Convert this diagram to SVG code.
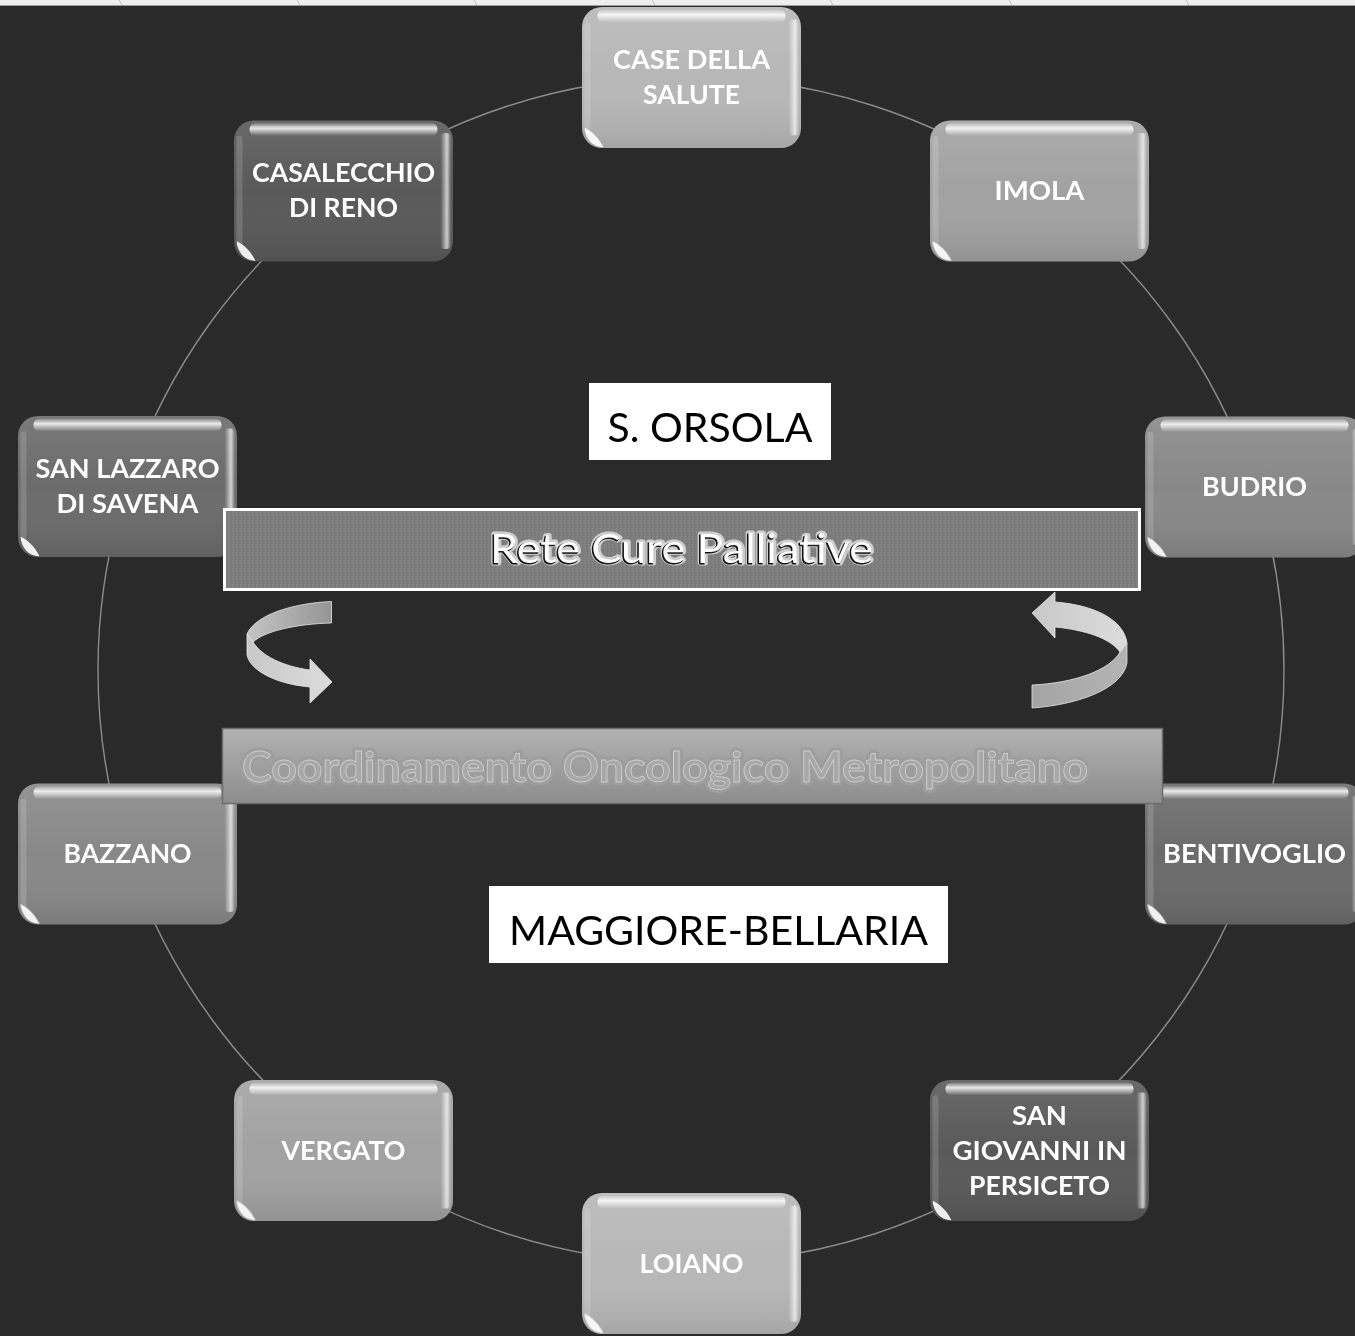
<svg xmlns="http://www.w3.org/2000/svg" width="1355" height="1336" viewBox="0 0 1355 1336">
<defs>
<style>
.lbl{font-family:Lato,"Liberation Sans",sans-serif;font-weight:bold;font-size:26px;fill:#fff;text-anchor:middle}
.arc{fill:none;stroke:#8c8c8c;stroke-width:1.4}
.nbox{stroke:none}
.c1{fill:#b7b7b7}.c2{fill:#a2a2a2}.c3{fill:#888}.c4{fill:#6b6b6b}.c5{fill:#595959}
.plain{font-family:Lato,"Liberation Sans",sans-serif;font-size:41px;fill:#000;text-anchor:middle}
</style>
<linearGradient id="shade" x1="0" y1="0" x2="0" y2="1">
<stop offset="0" stop-color="#fff" stop-opacity="0.10"/>
<stop offset="0.5" stop-color="#fff" stop-opacity="0"/>
<stop offset="1" stop-color="#000" stop-opacity="0.10"/>
</linearGradient>
<linearGradient id="hlTop" x1="0" y1="0" x2="0" y2="1">
<stop offset="0" stop-color="#fff" stop-opacity="0.1"/>
<stop offset="0.4" stop-color="#fff" stop-opacity="0.85"/>
<stop offset="1" stop-color="#fff" stop-opacity="0"/>
</linearGradient>
<linearGradient id="hlSide" x1="0" y1="0" x2="1" y2="0">
<stop offset="0" stop-color="#fff" stop-opacity="0"/>
<stop offset="0.65" stop-color="#fff" stop-opacity="0.7"/>
<stop offset="1" stop-color="#fff" stop-opacity="0.1"/>
</linearGradient>
<linearGradient id="hlSideV" x1="0" y1="0" x2="0" y2="1">
<stop offset="0" stop-color="#fff" stop-opacity="0"/>
<stop offset="0.15" stop-color="#fff" stop-opacity="1"/>
<stop offset="0.85" stop-color="#fff" stop-opacity="1"/>
<stop offset="1" stop-color="#fff" stop-opacity="0"/>
</linearGradient>
<mask id="sideMask"><rect x="-120" y="-80" width="240" height="160" fill="url(#hlSideV)"/></mask>
<linearGradient id="coordFill" x1="0" y1="0" x2="0" y2="1">
<stop offset="0" stop-color="#b2b2b2"/>
<stop offset="1" stop-color="#8d8d8d"/>
</linearGradient>
<linearGradient id="bandDark" x1="1" y1="0" x2="0" y2="0">
<stop offset="0" stop-color="#959595"/>
<stop offset="1" stop-color="#c4c4c4"/>
</linearGradient>
<linearGradient id="bandLight" x1="0" y1="0" x2="1" y2="0">
<stop offset="0" stop-color="#c8c8c8"/>
<stop offset="1" stop-color="#dcdcdc"/>
</linearGradient>
<linearGradient id="bandDark2" x1="0" y1="0" x2="1" y2="0">
<stop offset="0" stop-color="#a4a4a4"/>
<stop offset="1" stop-color="#b4b4b4"/>
</linearGradient>
<pattern id="noise" width="4" height="4" patternUnits="userSpaceOnUse">
<rect width="4" height="4" fill="#7e7e7e"/>
<rect x="0" y="0" width="1" height="1" fill="#8a8a8a"/>
<rect x="2" y="1" width="1" height="1" fill="#737373"/>
<rect x="1" y="2" width="1" height="1" fill="#888"/>
<rect x="3" y="3" width="1" height="1" fill="#747474"/>
</pattern>
<symbol id="gloss" overflow="visible">
<rect x="-109.5" y="-70.5" width="219" height="141" rx="20" fill="url(#shade)"/>
<rect x="-94" y="-68" width="188" height="13" rx="6" fill="url(#hlTop)"/>
<g mask="url(#sideMask)">
<rect x="97" y="-58" width="10" height="116" rx="4" fill="url(#hlSide)"/>
<rect x="-107" y="-55" width="6" height="110" rx="2" fill="#fff" opacity="0.15"/>
</g>
<path d="M-107,50 C-106,62 -99,69 -88,70 C-92,61 -99,54 -107,50 Z" fill="#fff" opacity="0.9"/>
</symbol>
</defs>
<rect width="1355" height="1336" fill="#2a2a2a"/>
<rect width="1355" height="5" fill="#eeeeee"/>
<line x1="0" y1="5.5" x2="1355" y2="5.5" stroke="#9c9c9c" stroke-width="1"/>
<g stroke="#b5b5b5" stroke-width="0.8">
<line x1="119" y1="0" x2="122" y2="5"/><line x1="297" y1="0" x2="300" y2="5"/><line x1="474" y1="0" x2="477" y2="5"/><line x1="652" y1="0" x2="655" y2="5"/><line x1="830" y1="0" x2="833" y2="5"/><line x1="1009" y1="0" x2="1012" y2="5"/><line x1="1186" y1="0" x2="1189" y2="5"/>
</g>
<g id="connectors">
<path class="arc" d="M691,77 A593,593 0 0 1 1039.6,190.3"/>
<path class="arc" d="M1039.6,190.3 A593,593 0 0 1 1255,486.8"/>
<path class="arc" d="M1255,486.8 A593,593 0 0 1 1255,853.2"/>
<path class="arc" d="M1255,853.2 A593,593 0 0 1 1039.6,1149.7"/>
<path class="arc" d="M1039.6,1149.7 A593,593 0 0 1 691,1263"/>
<path class="arc" d="M691,1263 A593,593 0 0 1 342.4,1149.7"/>
<path class="arc" d="M342.4,1149.7 A593,593 0 0 1 127,853.2"/>
<path class="arc" d="M127,853.2 A593,593 0 0 1 127,486.8"/>
<path class="arc" d="M127,486.8 A593,593 0 0 1 342.4,190.3"/>
<path class="arc" d="M342.4,190.3 A593,593 0 0 1 691,77"/>
</g>
<g id="node-case" transform="translate(691.5,77.5)">
<rect class="nbox c1" x="-109.5" y="-70.5" width="219" height="141" rx="20"/>
<use href="#gloss"/>
<text class="lbl" y="-9" textLength="157" lengthAdjust="spacingAndGlyphs">CASE DELLA</text><text class="lbl" y="26" textLength="97" lengthAdjust="spacingAndGlyphs">SALUTE</text>
</g>
<g id="node-imola" transform="translate(1039.5,191)">
<rect class="nbox c2" x="-109.5" y="-70.5" width="219" height="141" rx="20"/>
<use href="#gloss"/>
<text class="lbl" y="9" textLength="90" lengthAdjust="spacingAndGlyphs">IMOLA</text>
</g>
<g id="node-budrio" transform="translate(1254.5,487)">
<rect class="nbox c3" x="-109.5" y="-70.5" width="219" height="141" rx="20"/>
<use href="#gloss"/>
<text class="lbl" y="9" textLength="105" lengthAdjust="spacingAndGlyphs">BUDRIO</text>
</g>
<g id="node-bentivoglio" transform="translate(1254.5,854)">
<rect class="nbox c4" x="-109.5" y="-70.5" width="219" height="141" rx="20"/>
<use href="#gloss"/>
<text class="lbl" y="9" textLength="183" lengthAdjust="spacingAndGlyphs">BENTIVOGLIO</text>
</g>
<g id="node-sangiovanni" transform="translate(1039.5,1150.5)">
<rect class="nbox c5" x="-109.5" y="-70.5" width="219" height="141" rx="20"/>
<use href="#gloss"/>
<text class="lbl" y="-26" textLength="55" lengthAdjust="spacingAndGlyphs">SAN</text><text class="lbl" y="9" textLength="174" lengthAdjust="spacingAndGlyphs">GIOVANNI IN</text><text class="lbl" y="44" textLength="141" lengthAdjust="spacingAndGlyphs">PERSICETO</text>
</g>
<g id="node-loiano" transform="translate(691.5,1263.5)">
<rect class="nbox c1" x="-109.5" y="-70.5" width="219" height="141" rx="20"/>
<use href="#gloss"/>
<text class="lbl" y="9" textLength="104" lengthAdjust="spacingAndGlyphs">LOIANO</text>
</g>
<g id="node-vergato" transform="translate(343.5,1150.5)">
<rect class="nbox c2" x="-109.5" y="-70.5" width="219" height="141" rx="20"/>
<use href="#gloss"/>
<text class="lbl" y="9" textLength="124" lengthAdjust="spacingAndGlyphs">VERGATO</text>
</g>
<g id="node-bazzano" transform="translate(127.5,854)">
<rect class="nbox c3" x="-109.5" y="-70.5" width="219" height="141" rx="20"/>
<use href="#gloss"/>
<text class="lbl" y="9" textLength="128" lengthAdjust="spacingAndGlyphs">BAZZANO</text>
</g>
<g id="node-sanlazzaro" transform="translate(127.5,486.5)">
<rect class="nbox c4" x="-109.5" y="-70.5" width="219" height="141" rx="20"/>
<use href="#gloss"/>
<text class="lbl" y="-9" textLength="184" lengthAdjust="spacingAndGlyphs">SAN LAZZARO</text><text class="lbl" y="26" textLength="142" lengthAdjust="spacingAndGlyphs">DI SAVENA</text>
</g>
<g id="node-casalecchio" transform="translate(343.5,191)">
<rect class="nbox c5" x="-109.5" y="-70.5" width="219" height="141" rx="20"/>
<use href="#gloss"/>
<text class="lbl" y="-9" textLength="183" lengthAdjust="spacingAndGlyphs">CASALECCHIO</text><text class="lbl" y="26" textLength="109" lengthAdjust="spacingAndGlyphs">DI RENO</text>
</g>
<g id="node-orsola">
<rect x="589" y="383" width="242" height="77" fill="#fff"/>
<text class="plain" x="710" y="442">S. ORSOLA</text>
</g>
<g id="node-maggiore">
<rect x="489" y="886" width="459" height="77" fill="#fff"/>
<text class="plain" x="718.5" y="945">MAGGIORE-BELLARIA</text>
</g>
<g id="node-rete">
<rect x="224.5" y="509.5" width="915" height="80" fill="url(#noise)" stroke="#fff" stroke-width="3"/>
<g font-family="Lato,'Liberation Sans',sans-serif" font-size="40" text-anchor="middle">
<text x="681.5" y="563" fill="none" stroke="#f2f2f2" stroke-width="5" stroke-opacity="0.7" stroke-linejoin="round" textLength="383" lengthAdjust="spacingAndGlyphs">Rete Cure Palliative</text>
<text x="680.5" y="564" fill="#111" stroke="#111" stroke-width="1" textLength="383" lengthAdjust="spacingAndGlyphs">Rete Cure Palliative</text>
<text x="681.5" y="563" fill="#fff" textLength="383" lengthAdjust="spacingAndGlyphs">Rete Cure Palliative</text>
</g>
</g>
<g id="node-coord">
<rect x="222.5" y="728.5" width="940" height="75" fill="url(#coordFill)" stroke="#6c6c6c" stroke-width="1.5"/>
<g font-family="Lato,'Liberation Sans',sans-serif" font-size="42" font-weight="bold" text-anchor="middle">
<text x="665" y="782" fill="none" stroke="#9e9e9e" stroke-width="7" stroke-linejoin="round" textLength="846" lengthAdjust="spacingAndGlyphs">Coordinamento Oncologico Metropolitano</text>
<text x="665" y="782" fill="#a8a8a8" stroke="#cfcfcf" stroke-width="0.8" textLength="846" lengthAdjust="spacingAndGlyphs">Coordinamento Oncologico Metropolitano</text>
</g>
</g>
<g id="arrow-left" stroke="#e6e6e6" stroke-width="0.8">
<path d="M331.5,601.5 L331.5,623 C296,624 265,631 253,642 L247,634 C256,614 295,603 331.5,601.5 Z" fill="url(#bandDark)"/>
<path d="M247,634 L253,642 C262,656 282,666 310,670 L310,659 L332,682 L310,703 L310,687 C275,684 250,670 247,655 Z" fill="url(#bandLight)"/>
</g>
<g id="arrow-right" stroke="#e6e6e6" stroke-width="0.8">
<path d="M1127,643 L1127,663 C1122,690 1075,705 1032,708 L1032,685 C1075,683 1110,670 1120,652 Z" fill="url(#bandDark2)"/>
<path d="M1032,613 L1055,592 L1055,602 C1095,605 1124,620 1127,643 L1120,652 C1110,638 1085,630 1055,627 L1055,638 Z" fill="url(#bandLight)"/>
</g>
</svg>
